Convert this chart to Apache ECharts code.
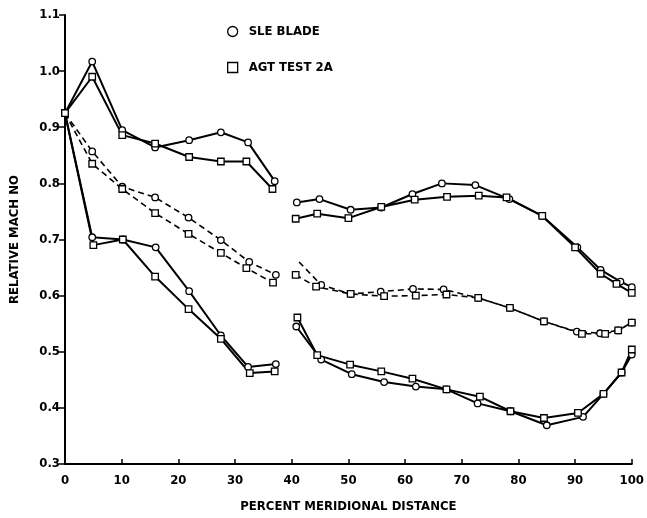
<!DOCTYPE html>
<html>
<head>
<meta charset="utf-8">
<script src="https://cdn.jsdelivr.net/npm/echarts@6/dist/echarts.min.js"></script>
<style>html,body{margin:0;padding:0;background:#fff}#c{width:647px;height:518px}</style>
</head>
<body>
<div id="c"></div>
<script>
// ---- data ----
const xTicks = [0,10,20,30,40,50,60,70,80,90,100];
const yTicks = [0.3,0.4,0.5,0.6,0.7,0.8,0.9,1.0,1.1];

// SLE BLADE (circles)
const sleUpperLX = [0,4.8,10.1,15.9,21.9,27.5,32.3,37.0];
const sleUpperLY = [0.925,1.017,0.895,0.864,0.877,0.891,0.873,0.804];
const sleUpperRX = [40.9,44.9,50.4,55.8,61.3,66.5,72.4,78.4,84.2,90.4,94.5,98.0,100];
const sleUpperRY = [0.766,0.772,0.753,0.757,0.781,0.800,0.797,0.772,0.742,0.686,0.646,0.625,0.615];
const sleMidLX = [0,4.8,10.1,15.9,21.8,27.5,32.5,37.2];
const sleMidLY = [0.925,0.857,0.794,0.775,0.739,0.699,0.660,0.637];
const sleMidRX = [41.3,45.2,50.4,55.7,61.4,66.8,72.9,78.5,84.5,90.3,94.4,97.6,100];
const sleMidRY = [0.660,0.619,0.603,0.607,0.612,0.611,0.596,0.578,0.554,0.536,0.533,0.538,0.552];
const sleLowLX = [0,4.8,10.2,16.0,21.9,27.5,32.3,37.2];
const sleLowLY = [0.925,0.704,0.700,0.686,0.608,0.529,0.473,0.478];
const sleLowRX = [40.8,45.2,50.6,56.3,61.9,67.3,72.8,78.6,85.0,91.4,95.0,98.2,100];
const sleLowRY = [0.545,0.486,0.460,0.446,0.438,0.433,0.408,0.394,0.369,0.384,0.425,0.463,0.495];

// AGT TEST 2A (squares)
const agtUpperLX = [0,4.8,10.1,15.9,21.9,27.5,32.0,36.6];
const agtUpperLY = [0.925,0.990,0.886,0.871,0.847,0.839,0.839,0.790];
const agtUpperRX = [40.7,44.5,50.0,55.8,61.7,67.4,73.0,77.9,84.2,90.0,94.5,97.3,100];
const agtUpperRY = [0.737,0.746,0.738,0.758,0.771,0.776,0.778,0.775,0.742,0.686,0.639,0.621,0.605];
const agtMidLX = [0,4.8,10.1,15.9,21.8,27.5,32.0,36.7];
const agtMidLY = [0.925,0.835,0.790,0.747,0.710,0.676,0.649,0.623];
const agtMidRX = [40.7,44.3,50.4,56.3,61.9,67.3,72.9,78.5,84.5,91.2,95.3,97.6,100];
const agtMidRY = [0.637,0.616,0.603,0.599,0.600,0.602,0.596,0.578,0.554,0.532,0.532,0.538,0.552];
const agtLowLX = [0,5.0,10.2,15.9,21.8,27.5,32.6,37.0];
const agtLowLY = [0.925,0.690,0.700,0.634,0.576,0.523,0.462,0.465];
const agtLowRX = [41.0,44.5,50.3,55.8,61.3,67.3,73.2,78.6,84.5,90.5,95.0,98.2,100];
const agtLowRY = [0.561,0.494,0.477,0.465,0.452,0.433,0.420,0.394,0.382,0.391,0.425,0.463,0.504];

// ---- build ----
const FONT = "'DejaVu Sans Condensed','Liberation Sans Narrow',sans-serif";
function pts(xs, ys, hideFirst){
  return xs.map((x,i)=> (hideFirst && i===0) ? {value:[x,ys[i]], symbol:'none'} : [x,ys[i]]);
}
function mk(name, symbol, xs, ys, dashed, hideFirst){
  return {
    name, type:'line', data:pts(xs,ys,hideFirst), symbol, symbolSize: 6.5,
    showAllSymbol:true, animation:false,
    lineStyle:{color:'#000', width: dashed?1.6:2, type: dashed?[6,4]:'solid'},
    itemStyle:{color:'#fff', borderColor:'#000', borderWidth:1.3},
    z: 2
  };
}
const S='SLE BLADE', A='AGT TEST 2A';
const series = [
  mk(S,'circle',sleUpperLX,sleUpperLY,false),
  mk(S,'circle',sleUpperRX,sleUpperRY,false),
  mk(S,'circle',sleMidLX,sleMidLY,true),
  mk(S,'circle',sleMidRX,sleMidRY,true,true),
  mk(S,'circle',sleLowLX,sleLowLY,false),
  mk(S,'circle',sleLowRX,sleLowRY,false),
  mk(A,'rect',agtUpperLX,agtUpperLY,false),
  mk(A,'rect',agtUpperRX,agtUpperRY,false),
  mk(A,'rect',agtMidLX,agtMidLY,true),
  mk(A,'rect',agtMidRX,agtMidRY,true),
  mk(A,'rect',agtLowLX,agtLowLY,false),
  mk(A,'rect',agtLowRX,agtLowRY,false)
];

const chart = echarts.init(document.getElementById('c'), null, {renderer:'canvas'});
chart.setOption({
  backgroundColor:'#fff',
  animation:false,
  grid:{left:65, right:15, top:15, bottom:53.5, containLabel:false},
  legend:{
    orient:'vertical', left:222, top:20, itemWidth:10, itemHeight:10, itemGap:23,
    selectedMode:false,
    data:[
      {name:S, icon:'circle', itemStyle:{color:'#fff', borderColor:'#000', borderWidth:1.3}},
      {name:A, icon:'rect', itemStyle:{color:'#fff', borderColor:'#000', borderWidth:1.3}}
    ],
    textStyle:{fontFamily:FONT, fontWeight:'bold', fontSize:13, color:'#000', padding:[0,0,0,6]}
  },
  xAxis:{
    type:'value', min:xTicks[0], max:xTicks[xTicks.length-1], interval:10,
    name:'PERCENT MERIDIONAL DISTANCE', nameLocation:'middle', nameGap:36,
    nameTextStyle:{fontFamily:FONT, fontWeight:'bold', fontSize:13, color:'#000'},
    axisLine:{lineStyle:{color:'#000', width:2}},
    axisTick:{inside:true, length:5, lineStyle:{color:'#000', width:1.5}},
    axisLabel:{margin:10, fontFamily:FONT, fontWeight:'bold', fontSize:13, color:'#000'},
    splitLine:{show:false}
  },
  yAxis:{
    type:'value', min:yTicks[0], max:yTicks[yTicks.length-1], interval:0.1,
    name:'RELATIVE MACH NO', nameLocation:'middle', nameGap:44,
    nameTextStyle:{fontFamily:FONT, fontWeight:'bold', fontSize:13, color:'#000'},
    axisLine:{show:true, lineStyle:{color:'#000', width:2}},
    axisTick:{show:true, length:6, lineStyle:{color:'#000', width:1.5}},
    axisLabel:{margin:5, fontFamily:FONT, fontWeight:'bold', fontSize:13, color:'#000',
      formatter:v=>v.toFixed(1)},
    splitLine:{show:false}
  },
  series
});
</script>
</body>
</html>
